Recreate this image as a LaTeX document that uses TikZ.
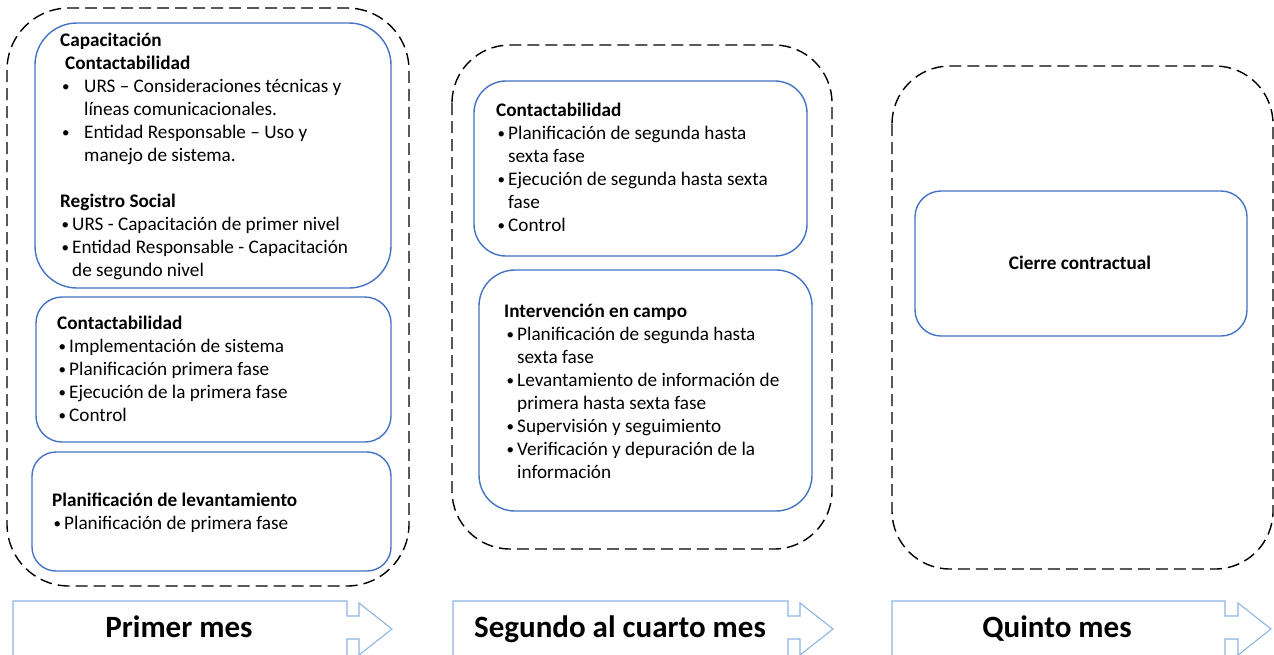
\documentclass[tikz,border=0pt]{standalone}
\usepackage{fontspec}
\setmainfont{Carlito}
\definecolor{boxblue}{HTML}{4472C4}
\definecolor{arrowblue}{HTML}{8EB4E3}
\tikzset{
  container/.style={draw=black, line width=1.4pt, dash pattern=on 12pt off 6pt},
  inner/.style={draw=boxblue, line width=1.4pt},
  callout/.style={draw=arrowblue, line width=1.1pt, line join=miter},
  txt/.style={anchor=base west, inner sep=0pt, font=\fontsize{19.2}{23}\selectfont},
  lbl/.style={anchor=base, inner sep=0pt, font=\fontsize{31}{36}\selectfont\bfseries},
}
\newcommand{\dotglyph}{\raisebox{0.6pt}{\fontsize{15}{15}\selectfont•}}
\newcommand{\bl}{\makebox[12pt][l]{\hspace{1.5pt}\dotglyph}}
\newcommand{\blw}{\makebox[24pt][l]{\hspace{2pt}\dotglyph}}
\begin{document}
\begin{tikzpicture}[x=1pt,y=-1pt]
\useasboundingbox (0,0) rectangle (1274,654);

% dashed containers
\draw[container, rounded corners=62pt] (7,8) rectangle (409,586);
\draw[container, rounded corners=58pt] (452,45) rectangle (832,549);
\draw[container, rounded corners=58pt] (892,66) rectangle (1273,569);

% inner boxes
\draw[inner, rounded corners=42pt] (35,23) rectangle (391,288);
\draw[inner, rounded corners=26pt] (36,297) rectangle (391,442);
\draw[inner, rounded corners=24pt] (32,452) rectangle (391,571);
\draw[inner, rounded corners=32pt] (474,81) rectangle (807,256);
\draw[inner, rounded corners=36pt] (479,270) rectangle (812,511);
\draw[inner, rounded corners=26pt] (915,191) rectangle (1247,336);

% texts
\node[txt] (t1a) at (60,46.5) {\parbox[t]{340pt}{\raggedright
\textbf{Capacitación}\\
\hspace*{5pt}\textbf{Contactabilidad}\\
\blw URS – Consideraciones técnicas y\\
\hspace*{24pt}líneas comunicacionales.\\
\blw Entidad Responsable – Uso y\\
\hspace*{24pt}manejo de sistema.\\
\mbox{}\\
\textbf{Registro Social}\\
\bl URS - Capacitación de primer nivel\\
\bl Entidad Responsable - Capacitación\\
\hspace*{12pt}de segundo nivel}};

\node[txt] (t1b) at (57,329) {\parbox[t]{330pt}{\raggedright
\textbf{Contactabilidad}\\
\bl Implementación de sistema\\
\bl Planificación primera fase\\
\bl Ejecución de la primera fase\\
\bl Control}};

\node[txt] (t1c) at (52,506) {\parbox[t]{330pt}{\raggedright
\textbf{Planificación de levantamiento}\\
\bl Planificación de primera fase}};

\node[txt] (t2a) at (496,116) {\parbox[t]{300pt}{\raggedright
\textbf{Contactabilidad}\\
\bl Planificación de segunda hasta\\
\hspace*{12pt}sexta fase\\
\bl Ejecución de segunda hasta sexta\\
\hspace*{12pt}fase\\
\bl Control}};

\node[txt] (t2b) at (504,317) {\parbox[t]{300pt}{\raggedright
\textbf{Intervención en campo}\\
\hspace*{1pt}\bl Planificación de segunda hasta\\
\hspace*{13pt}sexta fase\\
\hspace*{1pt}\bl Levantamiento de información de\\
\hspace*{13pt}primera hasta sexta fase\\
\hspace*{1pt}\bl Supervisión y seguimiento\\
\hspace*{1pt}\bl Verificación y depuración de la\\
\hspace*{13pt}información}};

\node[anchor=base, inner sep=0pt, font=\fontsize{19.2}{23}\selectfont\bfseries] (t3) at (1080,269) {Cierre contractual};

% callout arrows
\begin{scope}
\clip (0,0) rectangle (1274,654);
\draw[callout] (13,657) -- (13,601) -- (347,601) -- (347,616) -- (359,616) -- (359,603)
  -- (392,629) -- (359,655) -- (359,639) -- (347,639) -- (347,657);
\draw[callout] (453,657) -- (453,601) -- (788,601) -- (788,616) -- (800,616) -- (800,603)
  -- (833,629) -- (800,655) -- (800,639) -- (788,639) -- (788,657);
\draw[callout] (892,657) -- (892,601) -- (1225,601) -- (1225,616) -- (1238,616) -- (1238,603)
  -- (1271,629) -- (1238,655) -- (1238,639) -- (1225,639) -- (1225,657);
\end{scope}
\node[lbl] (l1) at (179,637) {Primer mes};
\node[lbl] (l2) at (620,637) {Segundo al cuarto mes};
\node[lbl] (l3) at (1057,637) {Quinto mes};
\end{tikzpicture}
\end{document}
